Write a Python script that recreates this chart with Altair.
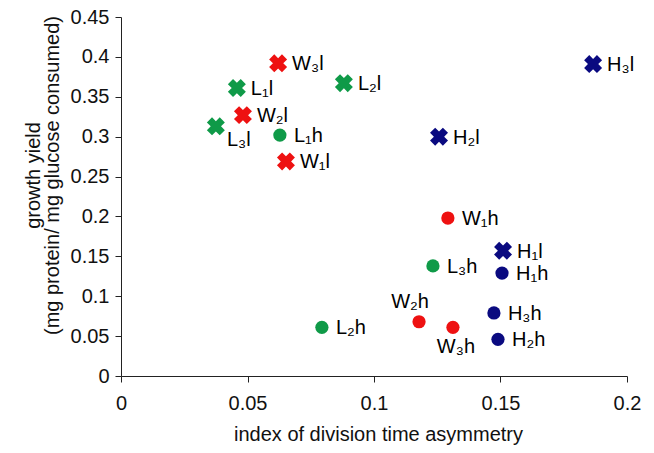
import altair as alt
import pandas as pd

# ---- data ----
labels = ["W₁l", "W₂l", "W₃l", "L₁l", "L₂l", "L₃l", "H₁l", "H₂l", "H₃l",
          "W₁h", "W₂h", "W₃h", "L₁h", "L₂h", "L₃h", "H₁h", "H₂h", "H₃h"]
strain = ["W", "W", "W", "L", "L", "L", "H", "H", "H",
          "W", "W", "W", "L", "L", "L", "H", "H", "H"]
condition = ["l"] * 9 + ["h"] * 9
asymmetry = [0.0652, 0.0482, 0.0621, 0.0458, 0.0881, 0.0375, 0.1510, 0.1257, 0.1866,
             0.1292, 0.1178, 0.1312, 0.0628, 0.0794, 0.1233, 0.1506, 0.1490, 0.1474]
growth_yield = [0.269, 0.327, 0.392, 0.361, 0.367, 0.313, 0.157, 0.300, 0.391,
                0.198, 0.068, 0.061, 0.302, 0.061, 0.138, 0.129, 0.046, 0.079]

x_ticks = [0, 0.05, 0.1, 0.15, 0.2]
y_ticks = [0, 0.05, 0.1, 0.15, 0.2, 0.25, 0.3, 0.35, 0.4, 0.45]

strain_domain = ["W", "L", "H"]
strain_colors = ["#ee1111", "#0f9a48", "#0a0a80"]

# label placement groups
label_below_right = ["L₃l"]
label_above = ["W₂h"]
label_below = ["W₃h"]

df = pd.DataFrame({
    "label": labels, "strain": strain, "condition": condition,
    "x": asymmetry, "y": growth_yield,
})

FONT = "Liberation Sans"
FS = 20

x_enc = alt.X("x:Q", scale=alt.Scale(domain=[0, 0.2], nice=False, zero=True),
              axis=alt.Axis(values=x_ticks, format="~g", labelOverlap=False,
                            title="index of division time asymmetry",
                            titleX=257, titleY=64, titleBaseline="alphabetic",
                            labelPadding=11))
y_enc = alt.Y("y:Q", scale=alt.Scale(domain=[0, 0.45], nice=False),
              axis=alt.Axis(values=y_ticks, format="~g", labelOverlap=False,
                            title=["growth yield", "(mg protein/ mg glucose consumed)"],
                            titleX=-88, titleY=158, titleBaseline="middle",
                            titleAlign="center", titleAngle=-90,
                            titleLineHeight=19, labelPadding=6))
color_enc = alt.Color("strain:N", scale=alt.Scale(domain=strain_domain, range=strain_colors),
                      legend=None)

base = alt.Chart(df)

crosses = base.transform_filter(alt.datum.condition == "l").mark_point(
    shape="cross", filled=True, angle=45, size=330, opacity=1
).encode(x=x_enc, y=y_enc, color=color_enc)

dots = base.transform_filter(alt.datum.condition == "h").mark_point(
    shape="circle", filled=True, size=175, opacity=1
).encode(x=x_enc, y=y_enc, color=color_enc)

special = label_below_right + label_above + label_below

text_right = base.transform_filter(
    ~alt.FieldOneOfPredicate(field="label", oneOf=special)
).mark_text(align="left", baseline="middle", dx=14, dy=1, font=FONT, fontSize=FS,
            color="black").encode(x=x_enc, y=y_enc, text="label:N")

text_br = base.transform_filter(
    alt.FieldOneOfPredicate(field="label", oneOf=label_below_right)
).mark_text(align="left", baseline="middle", dx=11, dy=14, font=FONT, fontSize=FS,
            color="black").encode(x=x_enc, y=y_enc, text="label:N")

text_above = base.transform_filter(
    alt.FieldOneOfPredicate(field="label", oneOf=label_above)
).mark_text(align="center", baseline="middle", dx=-9, dy=-20, font=FONT, fontSize=FS,
            color="black").encode(x=x_enc, y=y_enc, text="label:N")

text_below = base.transform_filter(
    alt.FieldOneOfPredicate(field="label", oneOf=label_below)
).mark_text(align="center", baseline="middle", dx=3, dy=20, font=FONT, fontSize=FS,
            color="black").encode(x=x_enc, y=y_enc, text="label:N")

chart = alt.layer(crosses, dots, text_right, text_br, text_above, text_below).properties(
    width=506, height=359,
    background="white",
    autosize=alt.AutoSizeParams(type="none"),
    padding={"left": 121, "top": 17, "right": 27, "bottom": 77},
).configure_view(stroke=None).configure_axis(
    grid=False, domainColor="#222222", tickColor="#222222", tickSize=6,
    labelFont=FONT, labelFontSize=FS, labelColor="#111111",
    titleFont=FONT, titleFontSize=FS, titleColor="#111111", titleFontWeight="normal",
    domainWidth=1, tickWidth=1, labelFlush=False, labelOverlap=False,
).configure_axisY(labelOverlap=False, labelBound=False)

chart.save("out.html", embed_options={"renderer": "svg", "actions": False})
